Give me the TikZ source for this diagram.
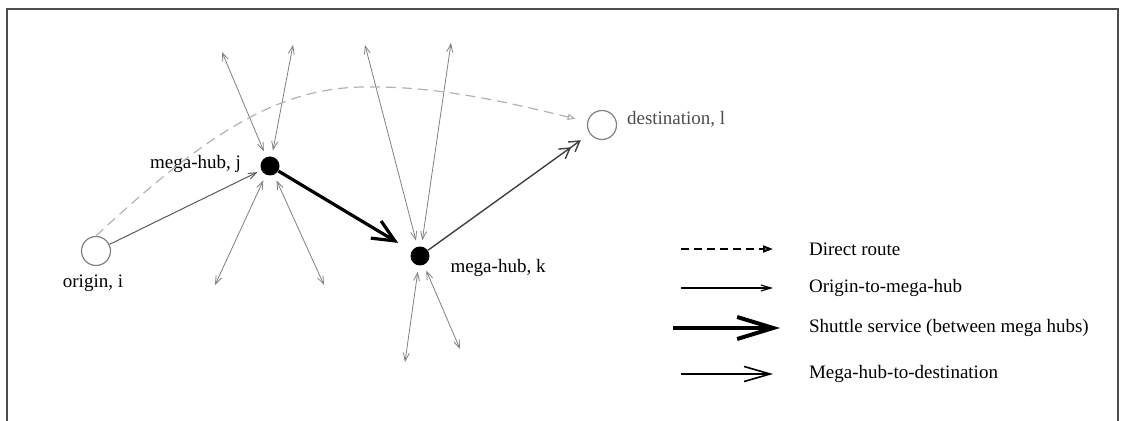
\documentclass[tikz,border=0pt]{standalone}
\usepackage{fontspec}
\setmainfont{Liberation Serif}
\usetikzlibrary{arrows.meta}
\tikzset{
  port/.style = {circle, draw = gray, line width = 0.6pt, minimum size = 14.5pt, inner sep = 0pt},
  hub/.style = {circle, fill = black, minimum size = 9.5pt, inner sep = 0pt},
  tag/.style = {font = \fontsize{9.5}{11}\selectfont},
  spoke/.style = {draw = gray, line width = 0.4pt, {Straight Barb[length = 4pt, width = 3pt]}-{Straight Barb[length = 4pt, width = 3pt]}, shorten <= 3pt},
  direct/.style = {draw = gray!60, line width = 0.6pt, dash pattern = on 5pt off 3pt, -{Triangle[open, length = 4pt, width = 3pt]}, shorten >= 6pt},
  feeder/.style = {draw = black!65, line width = 0.5pt, -{Straight Barb[length = 4pt, width = 3pt]}, shorten >= 2pt},
  shuttle/.style = {draw = black, line width = 1.6pt, -{Straight Barb[length = 11pt, width = 10pt]}, shorten >= 7.8pt},
  delivery/.style = {draw = black!75, line width = 0.7pt, -{Straight Barb[length = 5pt, width = 6pt] Straight Barb[length = 5pt, width = 6pt]}, shorten >= 5.5pt},
  keydirect/.style = {draw = black, line width = 1pt, dash pattern = on 4pt off 2.5pt, -{Triangle[open, length = 5pt, width = 3.5pt]}},
  keyfeeder/.style = {draw = black, line width = 0.6pt, -{Straight Barb[length = 5pt, width = 3pt]}},
  keyshuttle/.style = {draw = black, line width = 2pt, -{Straight Barb[length = 18pt, width = 11pt]}},
  keydelivery/.style = {draw = black, line width = 0.8pt, -{Straight Barb[length = 13pt, width = 7.5pt]}}
}
\begin{document}
\begin{tikzpicture}[x = 0.5pt, y = -0.5pt]
\pgfmathsetmacro\textx{802};
\useasboundingbox (0,0) rectangle (1122,421);
\draw[draw = black!70, line width = 1pt] (7,421) -- (7,9) -- (1118,9) -- (1118,421);
\node[port] (i) at (96,251) {};
\node[hub] (j) at (270,166) {};
\node[hub] (k) at (420,256) {};
\node[port] (l) at (602,125) {};
\node[tag] (itag) at (93,283) {origin, i};
\node[tag, anchor = east] (jtag) at (248,164) {mega-hub, j};
\node[tag] (ktag) at (498,268) {mega-hub, k};
\node[tag, anchor = west, text = black!70] (ltag) at (620,119) {destination, l};
\foreach \name/\x/\y in {ja/222/52, jb/293/45, jc/215/285, jd/324/285, ka/365/45, kb/451/43, kc/405/362, kd/460/349}
  \coordinate (\name) at (\x,\y);
\foreach \e in {ja,jb,jc,jd} \draw[spoke] (j) -- (\e);
\foreach \e in {ka,kb,kc,kd} \draw[spoke] (k) -- (\e);
\draw[direct] (i.north) .. controls (220,120) and (290,85) .. (375,87) .. controls (450,87) and (530,108) .. (l);
\draw[feeder] (i) -- (j);
\draw[shuttle] (j) -- (k);
\draw[delivery] (k) -- (l);
\foreach \n/\y/\a/\b/\sty/\txt in {1/249/681/773/keydirect/Direct route, 2/288/681/773/keyfeeder/Origin-to-mega-hub, 3/328/673/780/keyshuttle/Shuttle service (between mega hubs), 4/374/681/773/keydelivery/Mega-hub-to-destination} {
  \coordinate (s\n) at (\a,\y);
  \coordinate (e\n) at (\b,\y);
  \draw[\sty] (s\n) -- (e\n);
  \node[tag, anchor = west] (t\n) at (\textx,\y) {\txt};
}
\end{tikzpicture}
\end{document}
